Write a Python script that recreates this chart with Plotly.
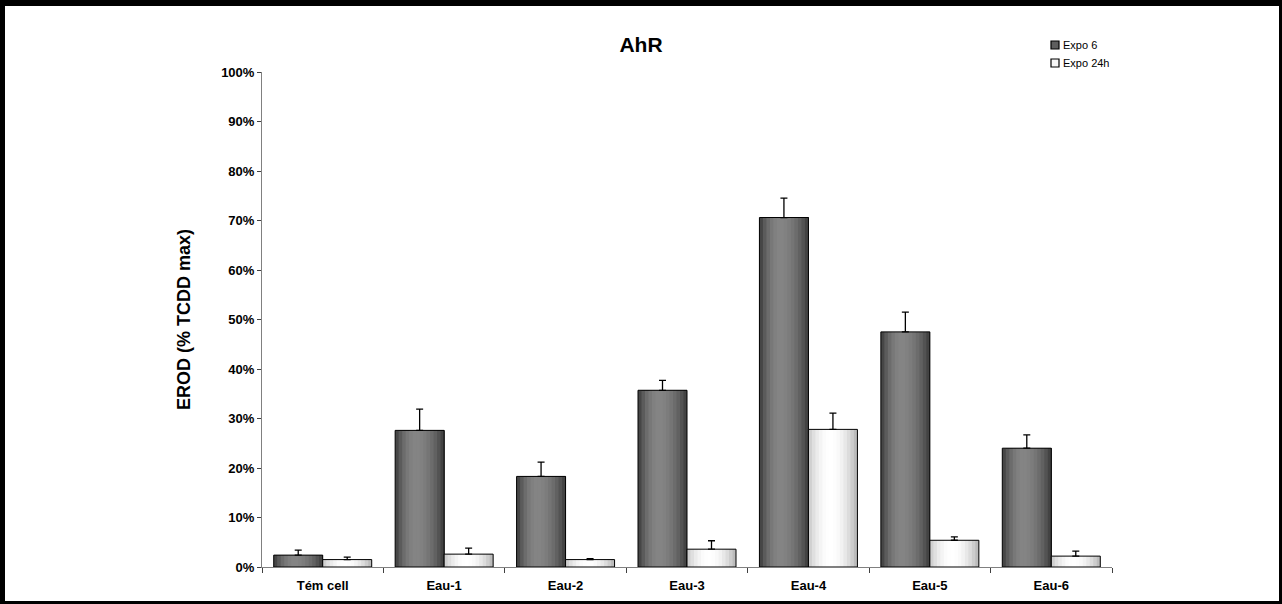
import plotly.graph_objects as go

# ---- data (EROD activity, % of TCDD max) ----
categories = ["Tém cell", "Eau-1", "Eau-2", "Eau-3", "Eau-4", "Eau-5", "Eau-6"]
expo6 = [2.4, 27.6, 18.3, 35.7, 70.6, 47.5, 24.0]
expo6_err = [1.0, 4.3, 2.9, 2.0, 3.9, 4.0, 2.7]
expo24 = [1.5, 2.6, 1.5, 3.6, 27.8, 5.4, 2.2]
expo24_err = [0.5, 1.2, 0.2, 1.7, 3.3, 0.7, 1.0]
y_ticks = [0, 10, 20, 30, 40, 50, 60, 70, 80, 90, 100]
y_tick_labels = ["0%", "10%", "20%", "30%", "40%", "50%",
                 "60%", "70%", "80%", "90%", "100%"]
series_names = ["Expo 6", "Expo 24h"]

FONT = "Arial, Liberation Sans, sans-serif"
W_PX, H_PX = 1282, 604
ML, MR, MT, MB = 262, 170, 72, 37
PLOT_W = W_PX - ML - MR
PLOT_H = H_PX - MT - MB

BAR_W = 0.4035  # width of one bar, in category units
N_STRIPS = 14


def px_x(px):
    return (px - ML) / PLOT_W


def px_y(py):
    return (H_PX - MB - py) / PLOT_H


def shade(t, left, peak, right, p):
    """Grey level across a bar: left edge -> peak at p -> right edge."""
    if t <= p:
        u = t / p
        v = left + (peak - left) * (1 - (1 - u) ** 2)
    else:
        u = (t - p) / (1 - p)
        v = peak + (right - peak) * u ** 2
    g = int(round(v))
    return f"rgb({g},{g},{g})"


fig = go.Figure()


def add_series(name, values, errors, base, left, peak, right, p):
    # shaded strips, each reaching the right edge, painted left to right
    for j in range(N_STRIPS):
        t0 = j / N_STRIPS
        tc = (j + 0.5) / N_STRIPS
        fig.add_trace(go.Bar(
            x=categories, y=values, offset=base + t0 * BAR_W,
            width=BAR_W * (1 - t0),
            marker=dict(color=shade(tc, left, peak, right, p), line=dict(width=0)),
            showlegend=False, hoverinfo="skip",
        ))
    # outline and error bars
    fig.add_trace(go.Bar(
        x=categories, y=values, offset=base, width=BAR_W,
        marker=dict(color="rgba(0,0,0,0)", line=dict(color="black", width=1)),
        error_y=dict(type="data", symmetric=False, array=errors,
                     arrayminus=[0] * len(errors), color="black",
                     thickness=1.3, width=3.5),
        showlegend=False, name=name,
    ))


add_series(series_names[0], expo6, expo6_err, -BAR_W, 58, 132, 58, 0.42)
add_series(series_names[1], expo24, expo24_err, 0.0, 200, 255, 178, 0.45)

# frame around the chart
frame = [
    (0, 0, W_PX, 6),        # top band
    (0, 0, 5, H_PX),        # left band
    (1279, 0, W_PX, H_PX),  # right band
    (0, 601, W_PX, H_PX),   # bottom line
]
shapes = [
    dict(type="rect", xref="paper", yref="paper",
         x0=px_x(a), x1=px_x(c), y0=px_y(d), y1=px_y(b),
         fillcolor="black", line=dict(width=0), layer="above")
    for a, b, c, d in frame
]

# legend keys: small boxed swatches with labels
legend_fills = ["#5e5e5e", "#f6f6f6"]
legend_rows = [45, 63]
annotations = []
for name, fill, yc in zip(series_names, legend_fills, legend_rows):
    shapes.append(dict(type="rect", xref="paper", yref="paper",
                       x0=px_x(1051), x1=px_x(1059),
                       y0=px_y(yc + 4), y1=px_y(yc - 4),
                       fillcolor=fill, line=dict(color="black", width=1.2)))
    annotations.append(dict(text=name, xref="paper", yref="paper",
                            x=px_x(1061), y=px_y(yc), xanchor="left",
                            yanchor="middle", showarrow=False,
                            font=dict(size=11, family=FONT, color="black")))

fig.update_layout(
    width=W_PX, height=H_PX,
    margin=dict(l=ML, r=MR, t=MT, b=MB, pad=0),
    paper_bgcolor="white", plot_bgcolor="white",
    barmode="overlay", showlegend=False,
    font=dict(family=FONT, color="black"),
    title=dict(text="<b>AhR</b>", x=0.5, xref="container", xanchor="center",
               y=1 - 45 / H_PX, yref="container", yanchor="middle",
               font=dict(size=21, family=FONT, color="black")),
    shapes=shapes,
    annotations=annotations,
    xaxis=dict(
        type="category", tickson="boundaries", ticks="outside", ticklen=5,
        tickcolor="#404040", showline=True, linecolor="#808080", linewidth=1,
        showgrid=False, zeroline=False, ticklabelstandoff=6,
        tickfont=dict(size=13, family=FONT, color="black", weight="bold"),
        range=[-0.5, len(categories) - 0.5],
    ),
    yaxis=dict(
        range=[0, 100], tickmode="array", tickvals=y_ticks,
        ticktext=y_tick_labels, ticks="outside",
        ticklen=4, tickcolor="#404040", showline=True, linecolor="#808080",
        linewidth=1, showgrid=False, zeroline=False,
        tickfont=dict(size=13, family=FONT, color="black", weight="bold"),
        title=dict(text="<b>EROD (% TCDD max)</b>", standoff=25,
                   font=dict(size=18, family=FONT, color="black")),
    ),
)

fig.write_html("out.html")
